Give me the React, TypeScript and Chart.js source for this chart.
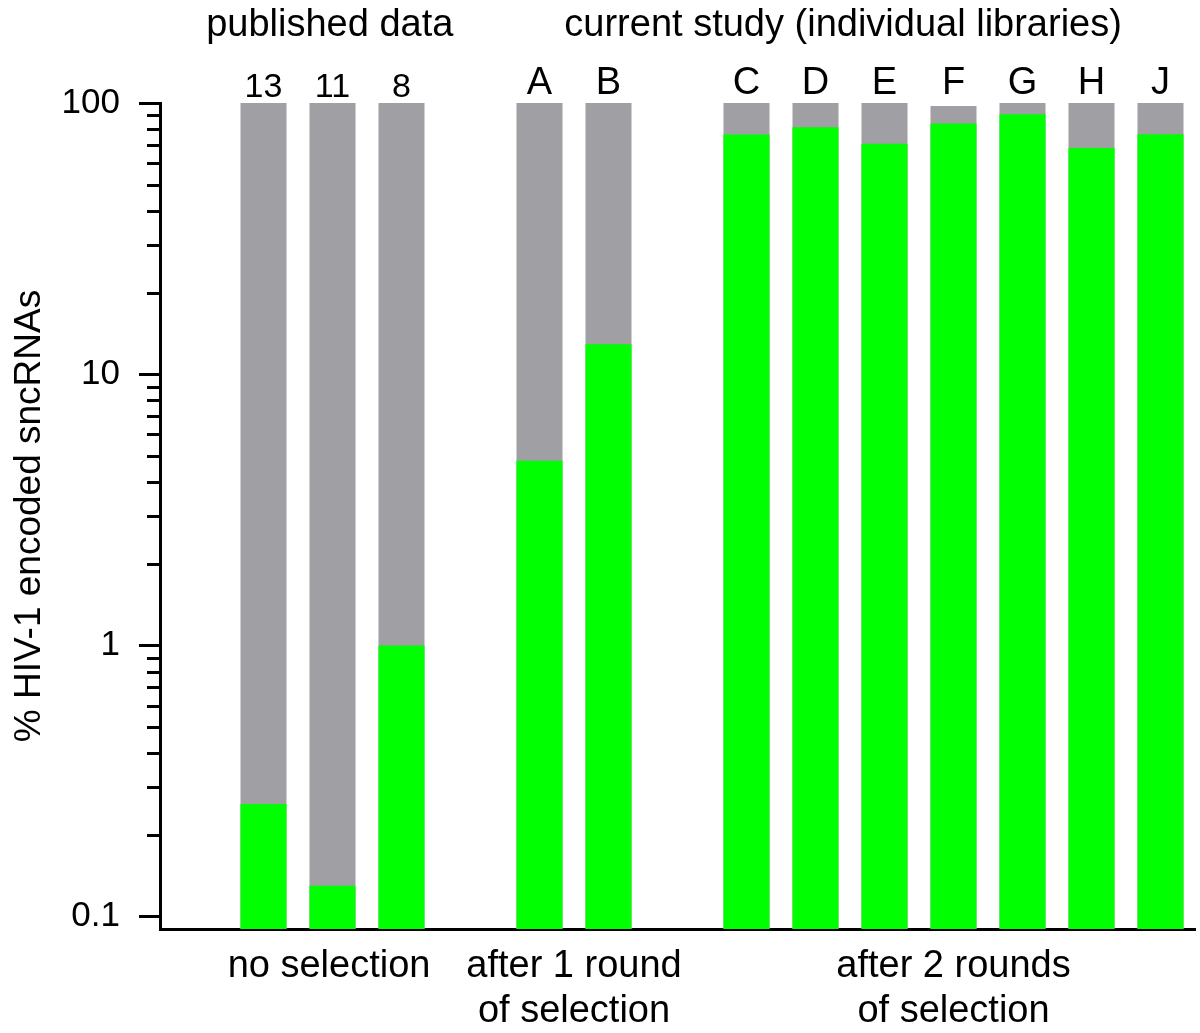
import React, { useEffect, useRef } from 'react';
import { Chart, registerables } from 'chart.js';

Chart.register(...registerables);

// one slot per library, empty slots make the gaps between the groups
const libraries = ['', '13', '11', '8', '', 'A', 'B', '', 'C', 'D', 'E', 'F', 'G', 'H', 'J'];
const hivEncoded = [null, 0.26, 0.13, 1.0, null, 4.8, 12.9, null, 76.5, 81.4, 70.8, 84, 90.9, 68.2, 76.7];
const totalReads = [null, 100, 100, 100, null, 100, 100, null, 100, 100, 100, 97.5, 100, 100, 100];

const yMajorTicks = [0.1, 1, 10, 100];
const yMajorLabels = ['0.1', '1', '10', '100'];
const yMinorTicks = [
  0.2, 0.3, 0.4, 0.5, 0.6, 0.7, 0.8, 0.9,
  2, 3, 4, 5, 6, 7, 8, 9,
  20, 30, 40, 50, 60, 70, 80, 90,
];

const topGroups = ['published data', 'current study (individual libraries)'];
const bottomGroups = [['no selection'], ['after 1 round', 'of selection'], ['after 2 rounds', 'of selection']];

const FONT = '"Liberation Sans", Arial, Helvetica, sans-serif';

// short ticks between the decades, placed by the y scale
const minorTicksPlugin = {
  id: 'minorTicks',
  afterDraw(chart: any) {
    const { ctx } = chart;
    const y = chart.scales.y;
    const left = chart.chartArea.left;
    ctx.save();
    ctx.strokeStyle = '#000';
    ctx.lineWidth = 3;
    yMinorTicks.forEach((v) => {
      const py = Math.round(y.getPixelForValue(v)) + 0.5;
      ctx.beginPath();
      ctx.moveTo(left - 13, py);
      ctx.lineTo(left, py);
      ctx.stroke();
    });
    ctx.restore();
  },
};

const labelsPlugin = {
  id: 'groupLabels',
  afterDraw(chart: any) {
    const { ctx } = chart;
    const x = chart.scales.x;
    ctx.save();
    ctx.fillStyle = '#000';
    ctx.textAlign = 'center';
    ctx.textBaseline = 'alphabetic';

    // library names above the bars: published ones are numbers, ours letters
    libraries.forEach((name, i) => {
      if (!name) return;
      const numeric = /^\d+$/.test(name);
      ctx.font = `${numeric ? 34 : 38}px ${FONT}`;
      ctx.fillText(name, x.getPixelForValue(i), numeric ? 97 : 94);
    });

    ctx.font = `38px ${FONT}`;
    ctx.fillText(topGroups[0], x.getPixelForValue(1.96), 36);
    ctx.fillText(topGroups[1], x.getPixelForValue(9.4), 36);

    const anchors = [1.95, 5.5, 11];
    bottomGroups.forEach((lines, g) => {
      lines.forEach((line, l) => {
        ctx.fillText(line, x.getPixelForValue(anchors[g]), 977 + l * 45);
      });
    });
    ctx.restore();
  },
};

export default function App() {
  const canvasRef = useRef<HTMLCanvasElement | null>(null);
  const chartRef = useRef<Chart | null>(null);

  useEffect(() => {
    document.body.style.margin = '0';
    if (!canvasRef.current) return;
    chartRef.current?.destroy();

    chartRef.current = new Chart(canvasRef.current, {
      type: 'bar',
      data: {
        labels: libraries,
        datasets: [
          {
            label: 'HIV-1 encoded',
            data: hivEncoded,
            backgroundColor: '#00FF00',
            order: 0,
          },
          {
            label: 'total',
            data: totalReads,
            backgroundColor: '#A09FA4',
            order: 1,
          },
        ],
      },
      options: {
        responsive: false,
        animation: false,
        layout: { padding: { top: 103, right: 5, bottom: 104, left: 0 } },
        plugins: {
          legend: { display: false },
          tooltip: { enabled: false },
        },
        datasets: {
          bar: {
            grouped: false,
            categoryPercentage: 1,
            barPercentage: 0.667,
          },
        },
        scales: {
          x: {
            type: 'category',
            offset: true,
            grid: { display: false },
            ticks: { display: false },
            border: { display: true, color: '#000', width: 3 },
            afterFit: (s: any) => {
              s.height = 0;
            },
          },
          y: {
            type: 'logarithmic',
            min: 0.09,
            max: 100,
            afterBuildTicks: (s: any) => {
              s.ticks = yMajorTicks.map((v) => ({ value: v }));
            },
            afterFit: (s: any) => {
              s.width = 160;
            },
            ticks: {
              autoSkip: false,
              padding: 19,
              color: '#000',
              font: { family: FONT, size: 35 },
              callback: (value: any) => {
                const i = yMajorTicks.indexOf(Number(value));
                return i >= 0 ? yMajorLabels[i] : '';
              },
            },
            grid: {
              drawOnChartArea: false,
              tickLength: 21,
              tickWidth: 3,
              tickColor: '#000',
            },
            border: { display: true, color: '#000', width: 3 },
            title: {
              display: true,
              text: '% HIV-1 encoded sncRNAs',
              color: '#000',
              font: { family: FONT, size: 37 },
              padding: { top: 8, bottom: 0 },
            },
          },
        },
      },
      plugins: [minorTicksPlugin, labelsPlugin],
    });

    return () => {
      chartRef.current?.destroy();
      chartRef.current = null;
    };
  }, []);

  return (
    <div style={{ width: 1200, height: 1033 }}>
      <canvas ref={canvasRef} width={1200} height={1033} style={{ display: 'block' }} />
    </div>
  );
}
